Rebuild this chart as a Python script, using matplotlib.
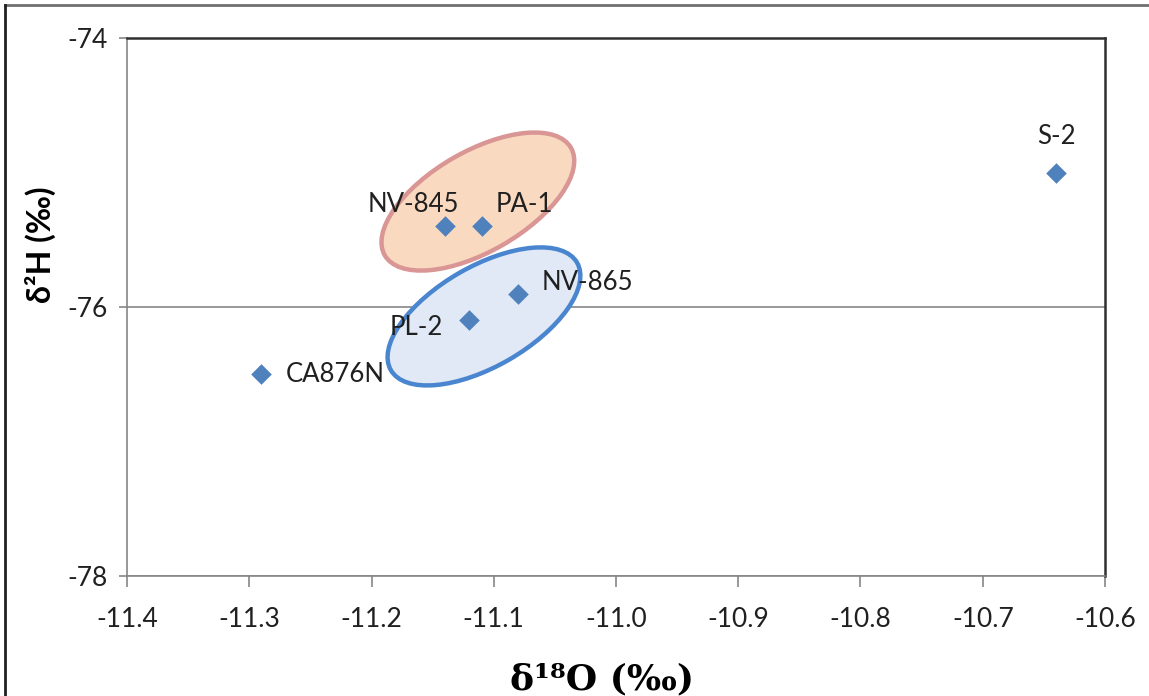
import numpy as np
import matplotlib.pyplot as plt
from matplotlib.patches import Ellipse
from matplotlib.lines import Line2D
import matplotlib.transforms as mtransforms

plt.rcParams['font.family'] = ['Lato', 'DejaVu Sans']

# sample isotope data
names = ["CA876N", "PL-2", "NV-865", "NV-845", "PA-1", "S-2"]
d18o = [-11.29, -11.12, -11.08, -11.14, -11.11, -10.64]
d2h = [-76.5, -76.1, -75.9, -75.4, -75.4, -75.0]

x_ticks = [-11.4, -11.3, -11.2, -11.1, -11.0, -10.9, -10.8, -10.7, -10.6]
y_ticks = [-78, -76, -74]

# groups that get circled
groups = [["NV-845", "PA-1"], ["PL-2", "NV-865"]]

# label placement (pixel offsets, alignment)
label_pos = {
    "CA876N": (24, 0, "left"),
    "PL-2": (-26, -7, "right"),
    "NV-865": (23, 11, "left"),
    "NV-845": (-31, 22, "center"),
    "PA-1": (14, 22, "left"),
    "S-2": (0, 36, "center"),
}

fig = plt.figure(figsize=(11.49, 6.96), dpi=100)
ax = fig.add_axes([127 / 1149, 1 - 576 / 696, 978 / 1149, 538 / 696])

ax.scatter(d18o, d2h, marker="D", s=110, color="#4F81BD", zorder=3, linewidths=0)

for n, x, y in zip(names, d18o, d2h):
    dx, dy, ha = label_pos[n]
    ax.annotate(n, (x, y), xytext=(dx, dy), textcoords="offset pixels",
                ha=ha, va="center", fontsize=18.5, color="#202020", zorder=5)

# ellipses around groups: fill below points, outline on top
styles = [("#F9D9BF", "#D99694"), ("#E0E9F5", "#4A86D0")]
shift = [(0.012, 0.184), (-0.008, -0.07)]
for grp, (fc, ec), (sx, sy) in zip(groups, styles, shift):
    gx = np.mean([d18o[names.index(g)] for g in grp]) + sx
    gy = np.mean([d2h[names.index(g)] for g in grp]) + sy
    for face, z in ((True, 1.5), (False, 4)):
        tr = fig.dpi_scale_trans + mtransforms.ScaledTranslation(gx, gy, ax.transData)
        e = Ellipse((0, 0), width=2.15, height=1.0, angle=30, transform=tr,
                    facecolor=fc if face else "none",
                    edgecolor="none" if face else ec,
                    linewidth=3.2, zorder=z)
        ax.add_patch(e)

ax.set_xlim(-11.4, -10.6)
ax.set_ylim(-78, -74)
ax.set_xticks(x_ticks)
ax.set_xticklabels([f"{v:.1f}" for v in x_ticks])
ax.set_yticks(y_ticks)
ax.set_yticklabels([str(v) for v in y_ticks])
ax.tick_params(axis="both", direction="out", colors="#868686", labelcolor="#202020",
               labelsize=19, length=8, width=1.2)
ax.tick_params(axis="y", length=6, pad=8)
ax.tick_params(axis="x", pad=14)

ax.grid(axis="y", color="#868686", linewidth=1.2, zorder=0)
ax.set_axisbelow(True)
for s in ("left", "bottom"):
    ax.spines[s].set_color("#868686")
    ax.spines[s].set_linewidth(1.2)
for s in ("top", "right"):
    ax.spines[s].set_color("#303030")
    ax.spines[s].set_linewidth(1.8)

ax.set_xlabel("δ¹⁸O (‰)", fontsize=26, fontweight="bold",
              family=["DejaVu Serif"], va="center")
ax.xaxis.set_label_coords(0.486, -0.193)
ax.set_ylabel("δ²H (‰)", fontsize=23, fontweight="bold", va="center")
ax.yaxis.set_label_coords(-0.089, 0.615)

# outer frame of the chart area
fig.add_artist(Line2D([5 / 1149, 1], [1 - 5 / 696] * 2, transform=fig.transFigure,
                      color="#707070", linewidth=2))
fig.add_artist(Line2D([5 / 1149] * 2, [0, 1 - 5 / 696], transform=fig.transFigure,
                      color="#202020", linewidth=2))

fig.savefig("out.png", dpi=100)
